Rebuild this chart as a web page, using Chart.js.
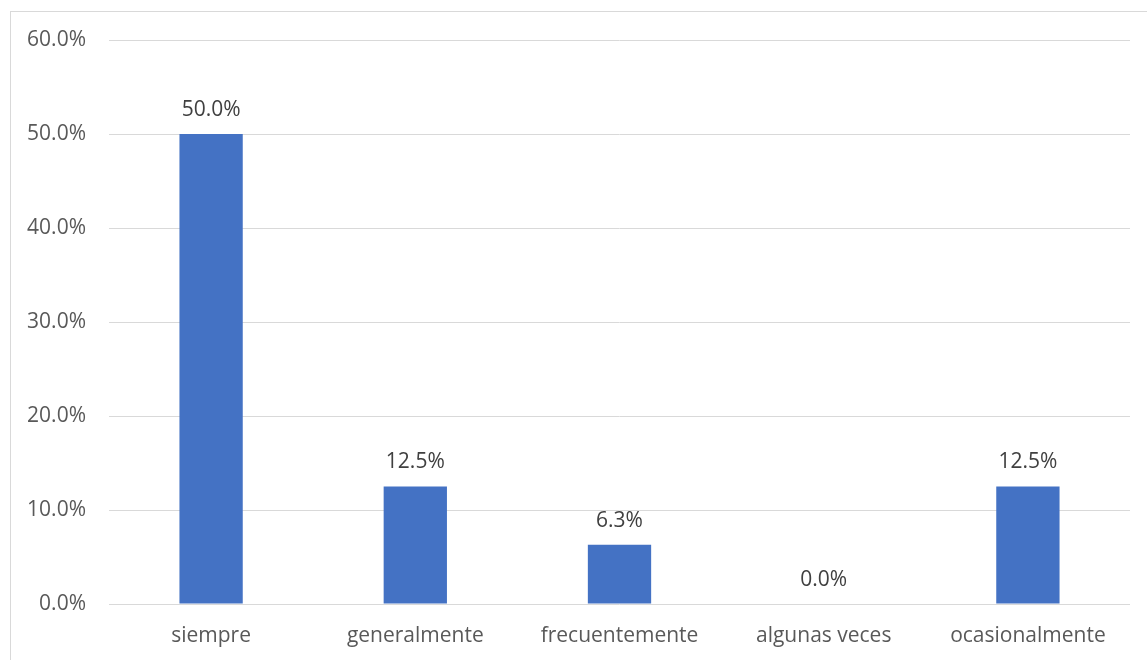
<!DOCTYPE html>
<html>
<head>
<meta charset="utf-8">
<script src="https://cdn.jsdelivr.net/npm/chart.js@4"></script>
<style>
	html, body { margin: 0; padding: 0; background: #fff; }
	.frame { position: absolute; left: 0; top: 0; width: 1147px; height: 660px; }
	.frame__border { position: absolute; left: 10px; top: 11px; width: 1200px; height: 700px; border-left: 1px solid #d9d9d9; border-top: 1px solid #d9d9d9; pointer-events: none; }
</style>
</head>
<body>
<div class="frame">
	<canvas id="chart" width="1147" height="660"></canvas>
	<div class="frame__border"></div>
</div>
<script>
const categories = ["siempre", "generalmente", "frecuentemente", "algunas veces", "ocasionalmente"];
const percentages = [50.0, 12.5, 6.3, 0.0, 12.5];
const yTicks = [0, 10, 20, 30, 40, 50, 60];

const fontFamily = "'Open Sans', 'Noto Sans', sans-serif";
const textColor = "#595959";

// value labels above each bar
const barLabels = {
	id: "barLabels",
	afterDatasetsDraw(chart) {
		const ctx = chart.ctx;
		const meta = chart.getDatasetMeta(0);
		ctx.save();
		ctx.font = "21px " + fontFamily;
		ctx.fillStyle = "#404040";
		ctx.textAlign = "center";
		ctx.textBaseline = "middle";
		meta.data.forEach((bar, i) => {
			ctx.fillText(percentages[i].toFixed(1) + "%", bar.x, bar.y - 24);
		});
		ctx.restore();
	}
};

const ctx = document.getElementById("chart").getContext("2d");

new Chart(ctx, {
	type: "bar",
	data: {
		labels: categories,
		datasets: [{
			data: percentages,
			backgroundColor: "#4472c4",
			borderWidth: 0,
			categoryPercentage: 1,
			barPercentage: 0.31
		}]
	},
	options: {
		responsive: false,
		animation: false,
		layout: {
			padding: { left: 0, right: 17, top: 40, bottom: 0 }
		},
		plugins: {
			legend: { display: false },
			tooltip: { enabled: false }
		},
		scales: {
			x: {
				grid: { display: false },
				border: { display: false },
				ticks: {
					color: textColor,
					font: { family: fontFamily, size: 21 },
					padding: 11
				},
				afterFit(scale) { scale.height = 56; }
			},
			y: {
				min: 0,
				max: 60,
				afterBuildTicks(scale) {
					scale.ticks = yTicks.map(v => ({ value: v }));
				},
				grid: { color: "#d9d9d9", lineWidth: 1, drawTicks: false },
				border: { display: false },
				ticks: {
					color: textColor,
					font: { family: fontFamily, size: 21 },
					padding: 23,
					callback: (value) => value.toFixed(1) + "%"
				},
				afterFit(scale) { scale.width = 109; }
			}
		}
	},
	plugins: [barLabels]
});
</script>
</body>
</html>
